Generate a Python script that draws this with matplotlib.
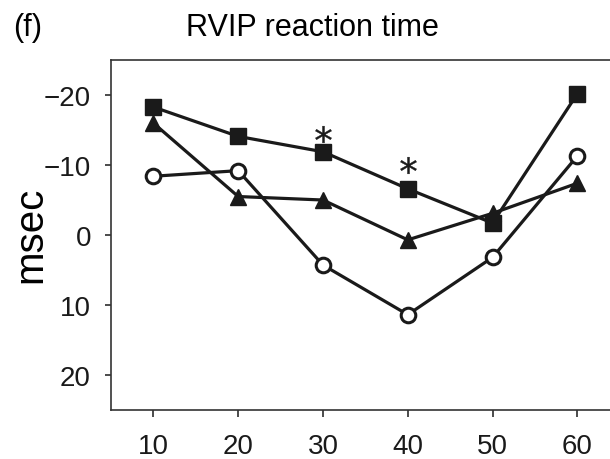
import matplotlib
matplotlib.use("Agg")
import matplotlib.pyplot as plt

plt.rcParams['font.family'] = ['Liberation Sans', 'DejaVu Sans']

x = [10, 20, 30, 40, 50, 60]
squares = [-18.3, -14.1, -11.9, -6.6, -1.7, -20.2]
circles = [-8.4, -9.2, 4.3, 11.4, 3.2, -11.3]
triangles = [-16.0, -5.5, -5.0, 0.7, -3.1, -7.4]
star_x = [30, 40]
star_y = [-14.5, -10.0]
yticks = [-20, -10, 0, 10, 20]
ytick_labels = ['\u221220', '\u221210', '0', '10', '20']

fig = plt.figure(figsize=(6.1, 4.6), dpi=100)
ax = fig.add_axes([0.182, 0.107, 0.834, 0.760])

lw = 2.3
ax.plot(x, squares, color='#1a1a1a', lw=lw, marker='s', ms=11, mfc='#1a1a1a', mec='#1a1a1a', zorder=3)
ax.plot(x, circles, color='#1a1a1a', lw=lw, marker='o', ms=10.5, mfc='white', mec='#1a1a1a', mew=2.2, zorder=3)
ax.plot(x, triangles, color='#1a1a1a', lw=lw, marker='^', ms=11.5, mfc='#1a1a1a', mec='#1a1a1a', zorder=4)

ax.plot(star_x, star_y, linestyle='none', marker='$*$', ms=12, mew=0.3, color='#1a1a1a', zorder=5)

ax.set_xlim(5, 65)
ax.set_ylim(25, -25)
ax.set_xticks(x)
ax.set_xticklabels([str(v) for v in x], fontsize=20)
ax.set_yticks(yticks)
ax.set_yticklabels(ytick_labels, fontsize=20)
ax.tick_params(axis='y', direction='out', length=4.5, width=1.1, pad=10, colors='#1a1a1a')
ax.tick_params(axis='x', direction='out', length=5, width=1.1, pad=12, colors='#1a1a1a')
for s in ['left', 'top', 'bottom']:
    ax.spines[s].set_linewidth(1.2)
    ax.spines[s].set_color('#333333')
ax.spines['right'].set_visible(False)

fig.text(0.049, 0.49, 'msec', rotation=90, ha='center', va='center', fontsize=29)
fig.text(0.512, 0.94, 'RVIP reaction time', ha='center', va='center', fontsize=22)
fig.text(0.021, 0.94, '(f)', ha='left', va='center', fontsize=22)

fig.savefig('out.png', dpi=100)
